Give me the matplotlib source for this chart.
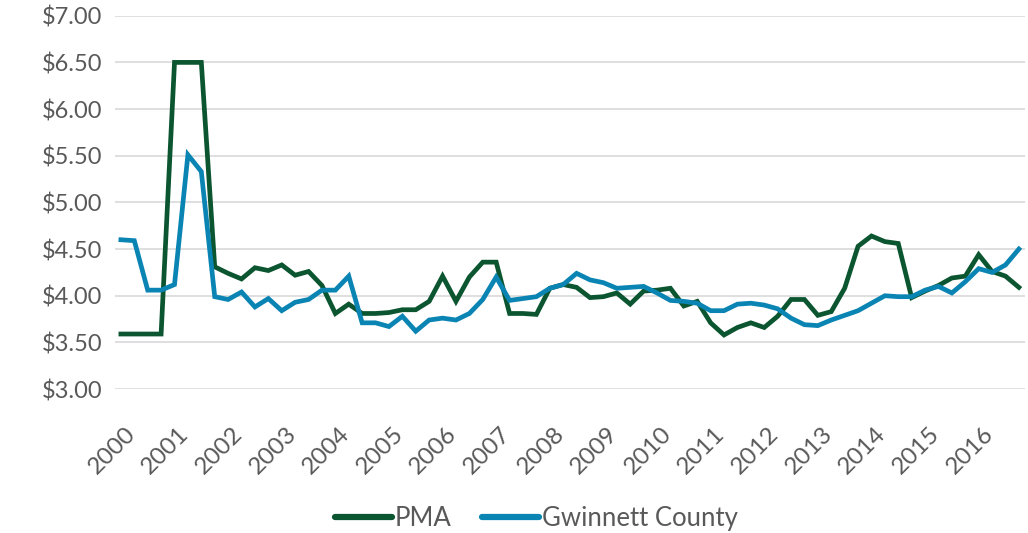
import numpy as np
import matplotlib.pyplot as plt
from matplotlib.transforms import ScaledTranslation

# quarterly values, 2000 Q1 .. 2016 Q4
years = [str(y) for y in range(2000, 2017)]
pma = [3.59, 3.59, 3.59, 3.59, 6.50, 6.50, 6.50, 4.31, 4.24, 4.18, 4.30, 4.27,
       4.33, 4.22, 4.26, 4.11, 3.81, 3.91, 3.81, 3.81, 3.82, 3.85, 3.85, 3.94,
       4.21, 3.94, 4.20, 4.36, 4.36, 3.81, 3.81, 3.80, 4.08, 4.12, 4.09, 3.98,
       3.99, 4.03, 3.91, 4.05, 4.06, 4.08, 3.89, 3.94, 3.71, 3.58, 3.66, 3.71,
       3.66, 3.78, 3.96, 3.96, 3.79, 3.83, 4.08, 4.53, 4.64, 4.58, 4.56, 3.98,
       4.05, 4.11, 4.19, 4.21, 4.44, 4.26, 4.21, 4.09]
gwinnett = [4.60, 4.59, 4.06, 4.06, 4.12, 5.51, 5.33, 3.99, 3.96, 4.04, 3.88, 3.97,
            3.84, 3.93, 3.96, 4.06, 4.06, 4.21, 3.71, 3.71, 3.67, 3.78, 3.62, 3.74,
            3.76, 3.74, 3.81, 3.96, 4.20, 3.95, 3.97, 3.99, 4.08, 4.12, 4.24, 4.17,
            4.14, 4.08, 4.09, 4.10, 4.03, 3.95, 3.94, 3.92, 3.84, 3.84, 3.91, 3.92,
            3.90, 3.86, 3.76, 3.69, 3.68, 3.74, 3.79, 3.84, 3.92, 4.00, 3.99, 3.99,
            4.06, 4.10, 4.03, 4.15, 4.29, 4.25, 4.33, 4.50]

plt.rcParams['font.family'] = ['Lato', 'DejaVu Sans']
grey = '#595959'

fig = plt.figure(figsize=(10.28, 5.33), dpi=100)
ax = fig.add_axes([0.112, 0.270, 0.885, 0.7005])

x = np.arange(len(pma))
ax.plot(x, pma, color='#0b5530', lw=3.4, label='PMA', solid_joinstyle='miter')
ax.plot(x, gwinnett, color='#0a84b3', lw=3.4, label='Gwinnett County', solid_joinstyle='miter')

ax.set_ylim(3, 7)
ax.set_yticks(np.arange(3, 7.01, 0.5))
ax.set_yticklabels(['$%.2f' % v for v in np.arange(3, 7.01, 0.5)])
ax.set_xlim(-0.43, 67.45)
ax.set_xticks(np.arange(0, len(pma), 4))
ax.set_xticklabels(years)

ax.grid(axis='y', color='#d9d9d9', lw=1.2)
ax.set_axisbelow(True)
for s in ax.spines.values():
    s.set_visible(False)

ax.tick_params(axis='y', length=0, pad=9, labelsize=17, labelcolor=grey)
ax.tick_params(axis='x', length=0, pad=30, labelsize=17.5, labelcolor=grey)
off = ScaledTranslation(0.11, 0, fig.dpi_scale_trans)
for lab in ax.get_xticklabels():
    lab.set_rotation(45)
    lab.set_ha('right')
    lab.set_va('center')
    lab.set_rotation_mode('anchor')
    lab.set_transform(lab.get_transform() + off)

leg = fig.legend(loc='center', bbox_to_anchor=(0.522, 0.028), ncol=2, frameon=False,
                 fontsize=18.5, handlelength=2.2, handletextpad=0.12, columnspacing=1.2)
for t in leg.get_texts():
    t.set_color(grey)
for h in leg.get_lines():
    h.set_linewidth(4.5)
    h.set_solid_capstyle('round')

fig.savefig('out.png', dpi=100)
